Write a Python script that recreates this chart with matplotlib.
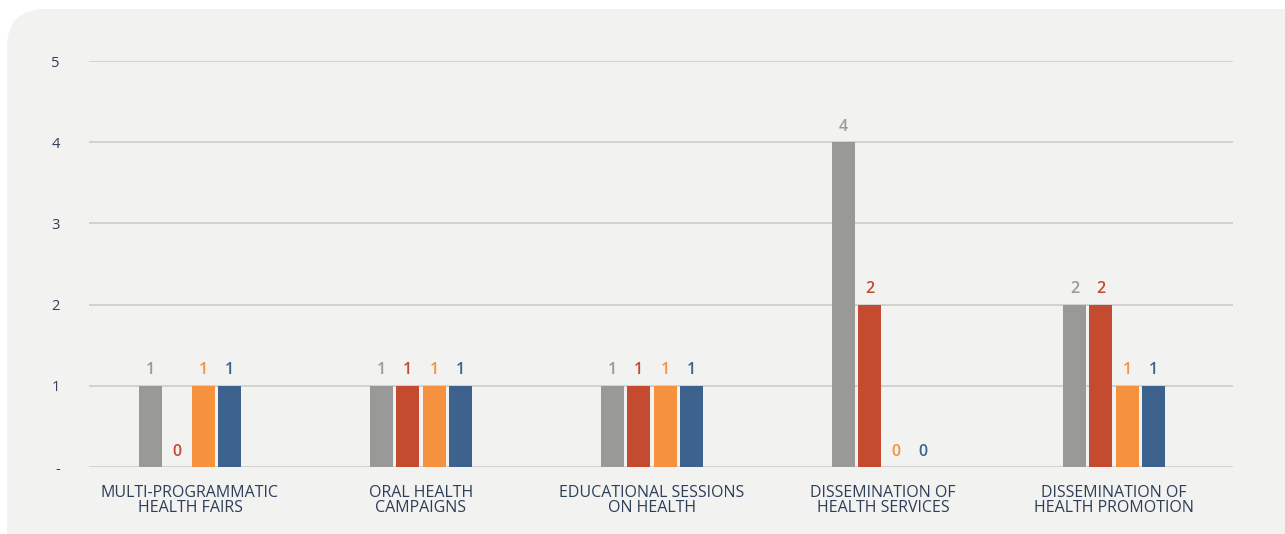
import matplotlib.pyplot as plt
import numpy as np
from matplotlib.patches import FancyBboxPatch

categories = [
    "MULTI-PROGRAMMATIC\nHEALTH FAIRS",
    "ORAL HEALTH\nCAMPAIGNS",
    "EDUCATIONAL SESSIONS\nON HEALTH",
    "DISSEMINATION OF\nHEALTH SERVICES",
    "DISSEMINATION OF\nHEALTH PROMOTION",
]
series_gray = [1, 1, 1, 4, 2]
series_red = [0, 1, 1, 2, 2]
series_orange = [1, 1, 1, 0, 1]
series_blue = [1, 1, 1, 0, 1]
y_ticks = [0, 1, 2, 3, 4, 5]
y_tick_labels = ["-", "1", "2", "3", "4", "5"]

colors = ["#999997", "#c44b30", "#f6923d", "#3d628e"]
text_color = "#2d3e57"
plt.rcParams["font.family"] = ["Open Sans", "DejaVu Sans"]

fig = plt.figure(figsize=(12.85, 5.34), dpi=100)
fig.patch.set_facecolor("white")
# light rounded panel behind the chart
panel = FancyBboxPatch(
    (7 / 1285, -0.1), 1.2, 1.1 - 9 / 534,
    boxstyle="round,pad=0,rounding_size=0.03",
    transform=fig.transFigure, facecolor="#f2f2f1", edgecolor="none",
    mutation_aspect=1285 / 534, zorder=-10,
)
fig.add_artist(panel)

ax = fig.add_axes([89 / 1285, 1 - 467 / 534, 1144 / 1285, 406 / 534])
ax.set_facecolor("none")

x = np.arange(len(categories))
width = 0.1
step = 0.114
all_series = [series_gray, series_red, series_orange, series_blue]
for i, (vals, c) in enumerate(zip(all_series, colors)):
    pos = x + (i - 1.5) * step
    ax.bar(pos, vals, width=width, color=c, zorder=3)
    for px, v in zip(pos, vals):
        ax.text(px, v + 0.09, str(v), ha="center", va="bottom",
                color=c, fontsize=11.5, fontweight="semibold", zorder=4)

ax.set_xlim(-0.437, 4.515)
ax.set_ylim(0, 5)
ax.set_yticks(y_ticks)
ax.set_yticklabels(y_tick_labels)
ax.grid(axis="y", color="#cfcfcd", linewidth=1.3, zorder=0)
ax.set_xticks(x)
ax.set_xticklabels(categories, linespacing=0.95)
ax.tick_params(axis="x", length=0, pad=13, labelsize=11.5, labelcolor=text_color)
ax.tick_params(axis="y", length=0, pad=21, labelsize=10.5, labelcolor=text_color)
for s in ax.spines.values():
    s.set_visible(False)

fig.savefig("out.png", dpi=100, facecolor="white")
